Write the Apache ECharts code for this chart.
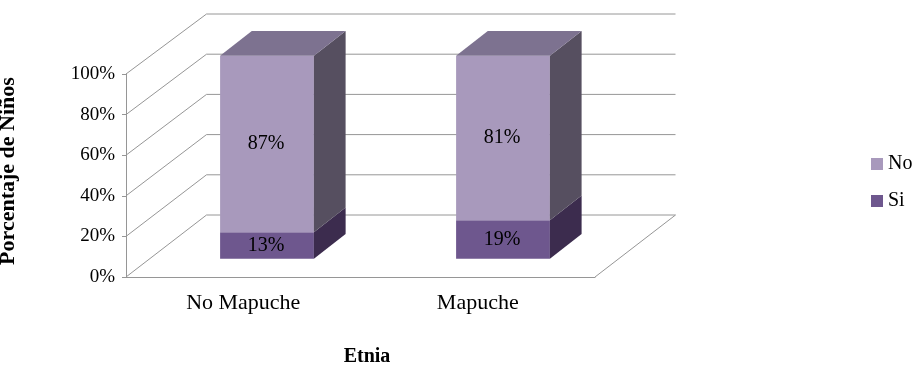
<!DOCTYPE html>
<html>
<head>
<meta charset="utf-8">
<style>html,body{margin:0;padding:0;background:#fff}#chart{width:918px;height:367px}</style>
<script src="https://cdn.jsdelivr.net/npm/echarts@6/dist/echarts.min.js"></script>
</head>
<body>
<div id="chart"></div>
<script>
// Percentage of children by ethnic group
const categories = ['No Mapuche', 'Mapuche'];
const seriesNo = [87, 81];
const seriesSi = [13, 19];
const yTicks = [0, 20, 40, 60, 80, 100];

const FONT = '"Liberation Serif", "Times New Roman", serif';
const GRID_COLOR = '#969696';

// Oblique projection of the box: where the back wall sits and how bars are raised from the floor
const WALL_DX = 80.5, WALL_TOP = 14, WALL_SCALE = 201 / 203;
const BAR_DX = 24.5, BAR_DY = 18.3;
const BAR_SPREAD = 236 / 234.5;
const DEPTH_DX = 31.7, DEPTH_DY = 24.7;

const chart = echarts.init(document.getElementById('chart'));

function poly(points, fill) {
  return { type: 'polygon', shape: { points }, style: { fill, stroke: null } };
}

// Wall and floor lines running from the front axis to the back wall
function renderWall(params, api) {
  const rect = params.coordSys;
  const v = api.value(0);
  const y = api.coord([0, v])[1];
  const x0 = rect.x, x1 = rect.x + rect.width;
  const by = WALL_TOP + (y - rect.y) * WALL_SCALE;
  const pts = [[x0, y], [x0 + WALL_DX, by], [x1 + WALL_DX, by]];
  if (v === 0) pts.push([x1, y]);
  return {
    type: 'polyline',
    shape: { points: pts },
    style: { fill: null, stroke: GRID_COLOR, lineWidth: 1 }
  };
}

// One stacked box segment: front, side and (for the top one) the lid
function boxRenderer(baseValues, colors, withTop) {
  return function (params, api) {
    const rect = params.coordSys;
    const i = api.value(0);
    const val = api.value(1);
    const base = baseValues[i];
    const band = api.size([1, 0])[0];
    const mid = rect.x + rect.width / 2;
    const cx = mid + (api.coord([i, 0])[0] - mid) * BAR_SPREAD + BAR_DX;
    const w = band * 0.4;
    const xl = cx - w / 2, xr = cx + w / 2;
    const yb = api.coord([i, base])[1] - BAR_DY;
    const yt = api.coord([i, base + val])[1] - BAR_DY;
    const children = [
      poly([[xl, yb], [xr, yb], [xr, yt], [xl, yt]], colors.front),
      poly([[xr, yb], [xr + DEPTH_DX, yb - DEPTH_DY], [xr + DEPTH_DX, yt - DEPTH_DY], [xr, yt]], colors.side)
    ];
    if (withTop) {
      children.push(poly([[xl, yt], [xr, yt], [xr + DEPTH_DX, yt - DEPTH_DY], [xl + DEPTH_DX, yt - DEPTH_DY]], colors.top));
    }
    children.push({
      type: 'text',
      style: {
        x: cx - 1, y: (yb + yt) / 2,
        text: val + '%',
        fill: '#000',
        font: '20px ' + FONT,
        align: 'center',
        verticalAlign: 'middle'
      }
    });
    return { type: 'group', children };
  };
}

const colorsNo = { front: '#a899bc', side: '#564f60', top: '#7d7290' };
const colorsSi = { front: '#6e578e', side: '#3c2c4e', top: '#6e578e' };

chart.setOption({
  animation: false,
  backgroundColor: '#fff',
  grid: { left: 126, right: 323, top: 74, bottom: 90, outerBoundsMode: 'none' },
  legend: {
    left: 871, top: 154, padding: 0, orient: 'vertical', itemWidth: 12, itemHeight: 12, itemGap: 17,
    icon: 'rect', data: ['No', 'Si'],
    textStyle: { color: '#000', fontFamily: FONT, fontSize: 20 }
  },
  xAxis: {
    type: 'category', data: categories, name: 'Etnia', nameLocation: 'middle', nameGap: 70,
    nameTextStyle: { color: '#000', fontFamily: FONT, fontSize: 20, fontWeight: 'bold', padding: [0, 0, 0, 13] },
    axisLine: { lineStyle: { color: GRID_COLOR } },
    axisTick: { length: 5, lineStyle: { color: GRID_COLOR } },
    axisLabel: { margin: 15, color: '#000', fontFamily: FONT, fontSize: 22 }
  },
  yAxis: {
    type: 'value', min: 0, max: 100, interval: 20, name: 'Porcentaje de Niños',
    nameLocation: 'middle', nameGap: 107,
    nameTextStyle: { color: '#000', fontFamily: FONT, fontSize: 22, fontWeight: 'bold', padding: [0, 0, 0, 9] },
    axisLine: { show: true, lineStyle: { color: GRID_COLOR } },
    axisTick: { show: true, length: 4, lineStyle: { color: GRID_COLOR } },
    splitLine: { show: false },
    axisLabel: { margin: 11, formatter: '{value}%', color: '#000', fontFamily: FONT, fontSize: 19 }
  },
  series: [
    {
      type: 'custom', name: 'wall', silent: true, z: 1, clip: false,
      data: yTicks.map(v => [v]), encode: { y: 0 },
      renderItem: renderWall
    },
    {
      type: 'custom', name: 'Si', z: 2, clip: false,
      itemStyle: { color: colorsSi.front },
      data: seriesSi.map((v, i) => [i, v]), encode: { x: 0, y: 1 },
      renderItem: boxRenderer(seriesSi.map(() => 0), colorsSi, false)
    },
    {
      type: 'custom', name: 'No', z: 3, clip: false,
      itemStyle: { color: colorsNo.front },
      data: seriesNo.map((v, i) => [i, v]), encode: { x: 0, y: 1 },
      renderItem: boxRenderer(seriesSi, colorsNo, true)
    }
  ]
});
</script>
</body>
</html>
